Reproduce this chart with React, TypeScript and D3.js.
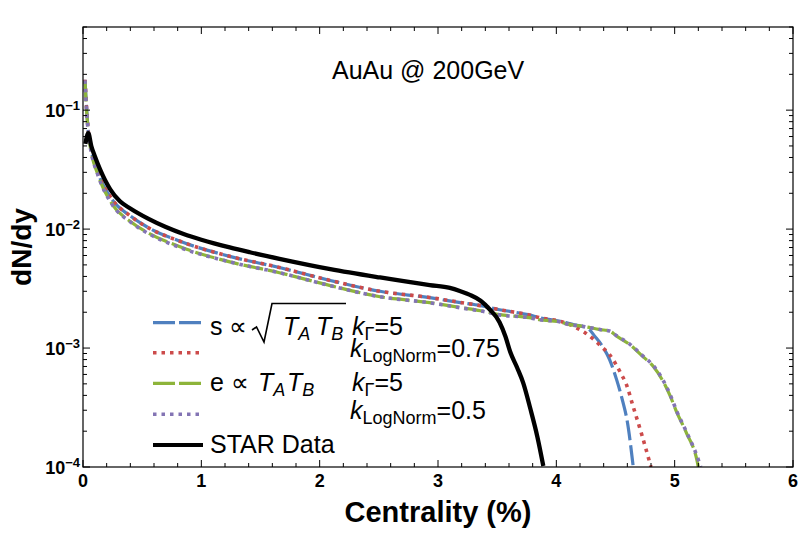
import React from "react";
import * as d3 from "d3";

type P = [number, number];

// STAR data (centrality %, dN/dy)
const starData: P[] = [
  [0.02, 0.052], [0.045, 0.064], [0.07, 0.05], [0.1, 0.041], [0.144, 0.0318],
  [0.23, 0.0216], [0.31, 0.0172], [0.4, 0.0149], [0.55, 0.01224], [0.7, 0.0104],
  [0.85, 0.00909], [1.0, 0.00814], [1.24, 0.00701], [1.41, 0.00639], [1.66, 0.00563],
  [2.09, 0.00461], [2.51, 0.00392], [2.93, 0.00338], [3.1, 0.0032], [3.19, 0.003],
  [3.27, 0.0028], [3.36, 0.0025], [3.44, 0.0021], [3.52, 0.00165], [3.57, 0.00125],
  [3.61, 0.00093], [3.67, 0.00068], [3.72, 0.00051], [3.78, 0.00031], [3.84, 0.000179],
  [3.89, 0.000102],
];

// s ∝ sqrt(TA TB), kGamma = 5
const sGamma: P[] = [
  [0.017, 0.18], [0.03, 0.105], [0.045, 0.066], [0.07, 0.046], [0.12, 0.031],
  [0.25, 0.0175], [0.4, 0.0129], [0.55, 0.0103], [0.82, 0.0079], [1.24, 0.0059],
  [1.66, 0.00475], [2.09, 0.0037], [2.51, 0.003], [2.93, 0.00265], [3.19, 0.00241],
  [3.36, 0.00227], [3.52, 0.0021], [3.77, 0.0019], [3.86, 0.0018], [4.03, 0.00168],
  [4.15, 0.00157], [4.26, 0.00148], [4.33, 0.00124], [4.38, 0.00107], [4.45, 0.0008],
  [4.51, 0.00054], [4.56, 0.00036], [4.6, 0.00024], [4.65, 0.0001],
];

// s ∝ sqrt(TA TB), kLogNorm = 0.75
const sLogNorm: P[] = [
  [0.017, 0.18], [0.03, 0.105], [0.045, 0.066], [0.07, 0.046], [0.12, 0.031],
  [0.25, 0.0176], [0.4, 0.0129], [0.55, 0.0103], [0.82, 0.0079], [1.24, 0.0059],
  [1.66, 0.00476], [2.09, 0.0037], [2.51, 0.003], [2.93, 0.00266], [3.19, 0.00242],
  [3.36, 0.00227], [3.52, 0.0021], [3.77, 0.0019], [3.86, 0.0018], [4.03, 0.00168],
  [4.1, 0.0016], [4.17, 0.00148], [4.24, 0.00135], [4.32, 0.00117], [4.39, 0.00101],
  [4.45, 0.00088], [4.5, 0.00074], [4.55, 0.0006], [4.59, 0.0005], [4.65, 0.00032],
  [4.72, 0.00019], [4.8, 0.0001],
];

// e ∝ TA TB, kGamma = 5
const eGamma: P[] = [
  [0.017, 0.175], [0.03, 0.1], [0.045, 0.064], [0.07, 0.044], [0.12, 0.0298],
  [0.25, 0.016], [0.4, 0.0116], [0.55, 0.0093], [0.82, 0.0071], [1.24, 0.0053],
  [1.66, 0.0043], [2.09, 0.00335], [2.51, 0.0027], [2.93, 0.00241], [3.19, 0.00219],
  [3.36, 0.00206], [3.52, 0.00191], [3.77, 0.0018], [3.86, 0.00173], [4.03, 0.00166],
  [4.09, 0.00159], [4.23, 0.00152], [4.37, 0.00143], [4.45, 0.00139], [4.51, 0.00126],
  [4.62, 0.00107], [4.73, 0.00085], [4.82, 0.0007], [4.9, 0.00053], [4.96, 0.0004],
  [5.02, 0.000285], [5.1, 0.000193], [5.19, 0.000112], [5.2, 0.0001],
];

// e ∝ TA TB, kLogNorm = 0.5
const eLogNorm: P[] = [
  [0.017, 0.178], [0.03, 0.1], [0.045, 0.064], [0.07, 0.044], [0.12, 0.0296],
  [0.25, 0.0159], [0.4, 0.0115], [0.55, 0.0092], [0.82, 0.007], [1.24, 0.0053],
  [1.66, 0.0043], [2.09, 0.00334], [2.51, 0.0027], [2.93, 0.0024], [3.19, 0.00218],
  [3.36, 0.00205], [3.52, 0.0019], [3.77, 0.0018], [3.86, 0.00173], [4.03, 0.00166],
  [4.09, 0.00159], [4.23, 0.00152], [4.37, 0.00143], [4.45, 0.00139], [4.51, 0.00127],
  [4.62, 0.00108], [4.73, 0.00086], [4.82, 0.00071], [4.9, 0.00054], [4.96, 0.00041],
  [5.02, 0.00029], [5.1, 0.000197], [5.2, 0.000115], [5.22, 0.0001],
];

const xTicks = [0, 1, 2, 3, 4, 5, 6];
const yTickExps = [-1, -2, -3, -4];

const W = 800, H = 536;
const L = 83, R = 793, T = 27, B = 467;
const FONT = "'Liberation Sans', Arial, sans-serif";

export default function App() {
  const x = d3.scaleLinear().domain([0, 6]).range([L, R]);
  const y = d3.scaleLog().domain([1e-4, 0.5]).range([B, T]);
  const line = d3
    .line<P>()
    .x((d) => x(d[0]))
    .y((d) => y(d[1]))
    .curve(d3.curveMonotoneX);

  const xMinor = d3.range(0, 30).map((i) => i * 0.2).filter((v) => Math.abs(v - Math.round(v)) > 1e-6);
  const yMinor: number[] = [];
  for (let e = -4; e <= -1; e++) {
    for (let m = 2; m <= 9; m++) {
      const v = m * Math.pow(10, e);
      if (v <= 0.5) yMinor.push(v);
    }
  }

  const series = [
    { data: sGamma, color: "#4f80bf", dash: "20 5", width: 3.2 },
    { data: sLogNorm, color: "#cc4b4b", dash: "3.5 5", width: 3.6 },
    { data: eGamma, color: "#8db43a", dash: "20 5", width: 3.2 },
    { data: eLogNorm, color: "#8374b4", dash: "3.5 5", width: 3.6 },
  ];

  const legendRows = [
    { y: 322.7, color: "#4f80bf", dash: "22 4", width: 3.2 },
    { y: 352.7, color: "#cc4b4b", dash: "3.5 5", width: 3.6 },
    { y: 383.3, color: "#8db43a", dash: "22 4", width: 3.2 },
    { y: 414.3, color: "#8374b4", dash: "3.5 5", width: 3.6 },
    { y: 445, color: "#000", dash: undefined as string | undefined, width: 4 },
  ];

  const SUB = 18;

  return (
    <svg
      width={W}
      height={H}
      style={{ position: "absolute", left: 0, top: 0, background: "#fff" }}
      fontFamily={FONT}
    >
      <defs>
        <clipPath id="plotclip">
          <rect x={L} y={T} width={R - L} height={B - T} />
        </clipPath>
      </defs>
      <rect x={0} y={0} width={W} height={H} fill="#fff" />

      {/* curves */}
      <g clipPath="url(#plotclip)" fill="none">
        {series.map((s, i) => (
          <path
            key={i}
            d={line(s.data) || ""}
            stroke={s.color}
            strokeWidth={s.width}
            strokeDasharray={s.dash}
          />
        ))}
        <path d={line(starData) || ""} stroke="#000" strokeWidth={4.3} strokeLinejoin="round" />
      </g>

      {/* frame */}
      <rect x={L} y={T} width={R - L} height={B - T} fill="none" stroke="#000" strokeWidth={1.2} />

      {/* ticks */}
      <g stroke="#000" strokeWidth={1}>
        {xTicks.map((t) => (
          <g key={"xt" + t}>
            <line x1={x(t)} x2={x(t)} y1={B} y2={B - 7} />
            <line x1={x(t)} x2={x(t)} y1={T} y2={T + 7} />
          </g>
        ))}
        {xMinor.map((t, i) => (
          <g key={"xm" + i}>
            <line x1={x(t)} x2={x(t)} y1={B} y2={B - 4} />
            <line x1={x(t)} x2={x(t)} y1={T} y2={T + 4} />
          </g>
        ))}
        {yTickExps.map((e) => (
          <g key={"yt" + e}>
            <line x1={L} x2={L + 7} y1={y(Math.pow(10, e))} y2={y(Math.pow(10, e))} />
            <line x1={R} x2={R - 7} y1={y(Math.pow(10, e))} y2={y(Math.pow(10, e))} />
          </g>
        ))}
        {yMinor.map((v, i) => (
          <g key={"ym" + i}>
            <line x1={L} x2={L + 4} y1={y(v)} y2={y(v)} />
            <line x1={R} x2={R - 4} y1={y(v)} y2={y(v)} />
          </g>
        ))}
      </g>

      {/* tick labels */}
      <g fontWeight="bold" fontSize={18} fill="#000">
        {xTicks.map((t) => (
          <text key={"xl" + t} x={x(t)} y={487} textAnchor="middle">
            {t}
          </text>
        ))}
        {yTickExps.map((e) => (
          <text key={"yl" + e} x={80} y={y(Math.pow(10, e)) + 6.5} textAnchor="end">
            10
            <tspan fontSize={13} dy={-7}>
              {"\u2212" + Math.abs(e)}
            </tspan>
          </text>
        ))}
      </g>

      {/* axis titles */}
      <text x={(L + R) / 2} y={522} textAnchor="middle" fontWeight="bold" fontSize={29}>
        Centrality (%)
      </text>
      <text
        transform={`translate(31, ${(T + B) / 2}) rotate(-90)`}
        textAnchor="middle"
        fontWeight="bold"
        fontSize={28}
      >
        dN/dy
      </text>

      {/* title */}
      <text x={332} y={78.5} fontSize={25}>
        AuAu @ 200GeV
      </text>

      {/* legend */}
      <g fill="none">
        {legendRows.map((r, i) => (
          <line
            key={"lg" + i}
            x1={153}
            x2={203}
            y1={r.y}
            y2={r.y}
            stroke={r.color}
            strokeWidth={r.width}
            strokeDasharray={r.dash}
          />
        ))}
        <path d="M252 330 L256.5 327 L264 342 L272 303.5 L346 303.5" stroke="#000" strokeWidth={1.6} />
      </g>
      <g fontSize={25} fill="#000">
        <text x={210} y={335}>s ∝</text>
        <text x={283} y={335} fontStyle="italic">
          T<tspan fontSize={SUB} dy={5}>A</tspan>
        </text>
        <text x={316} y={335} fontStyle="italic">
          T<tspan fontSize={SUB} dy={5}>B</tspan>
        </text>
        <text x={352} y={335}>
          <tspan fontStyle="italic">k</tspan>
          <tspan fontSize={SUB} dy={5}>Γ</tspan>
          <tspan dy={-5}>=5</tspan>
        </text>
        <text x={350} y={357}>
          <tspan fontStyle="italic">k</tspan>
          <tspan fontSize={SUB} dy={5}>LogNorm</tspan>
          <tspan dy={-5}>=0.75</tspan>
        </text>

        <text x={210} y={390.5}>e ∝</text>
        <text x={258} y={390.5} fontStyle="italic">
          T<tspan fontSize={SUB} dy={5}>A</tspan>
        </text>
        <text x={287} y={390.5} fontStyle="italic">
          T<tspan fontSize={SUB} dy={5}>B</tspan>
        </text>
        <text x={352} y={390.5}>
          <tspan fontStyle="italic">k</tspan>
          <tspan fontSize={SUB} dy={5}>Γ</tspan>
          <tspan dy={-5}>=5</tspan>
        </text>
        <text x={350} y={418.5}>
          <tspan fontStyle="italic">k</tspan>
          <tspan fontSize={SUB} dy={5}>LogNorm</tspan>
          <tspan dy={-5}>=0.5</tspan>
        </text>

        <text x={210} y={453}>STAR Data</text>
      </g>
    </svg>
  );
}
